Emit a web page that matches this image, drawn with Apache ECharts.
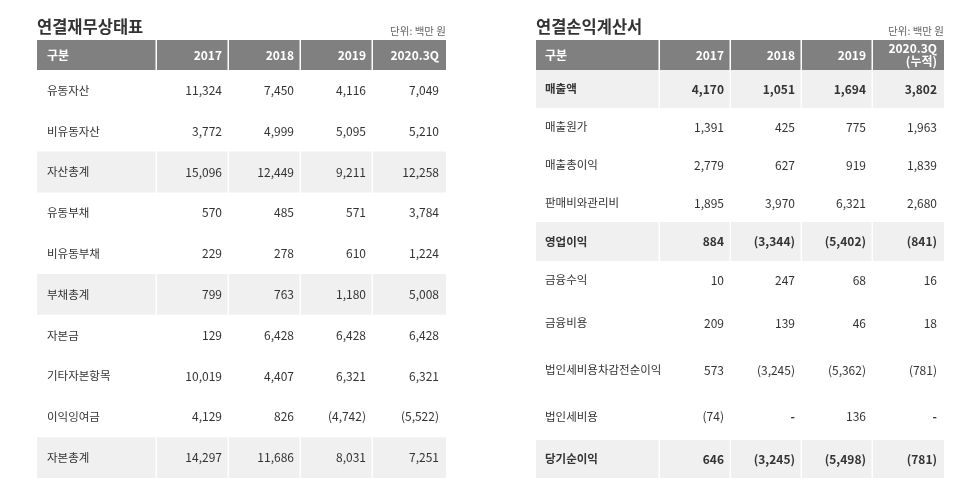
<!DOCTYPE html>
<html><head><meta charset="utf-8">
<script src="https://cdn.jsdelivr.net/npm/echarts@6/dist/echarts.min.js"></script>
<style>html,body{margin:0;padding:0;background:#fff}#c{width:972px;height:497px}</style>
</head><body><div id="c"></div>
<script>
// ---- data ----
const bsTitle = '연결재무상태표';
const isTitle = '연결손익계산서';
const unitText = '단위: 백만 원';
const bsHeaders = ['구분', '2017', '2018', '2019', '2020.3Q'];
const isHeaders = ['구분', '2017', '2018', '2019', '2020.3Q\n(누적)'];
const bsRows = ['유동자산','비유동자산','자산총계','유동부채','비유동부채','부채총계','자본금','기타자본항목','이익잉여금','자본총계'];
const bs2017 = [11324,3772,15096,570,229,799,129,10019,4129,14297];
const bs2018 = [7450,4999,12449,485,278,763,6428,4407,826,11686];
const bs2019 = [4116,5095,9211,571,610,1180,6428,6321,-4742,8031];
const bs2020 = [7049,5210,12258,3784,1224,5008,6428,6321,-5522,7251];
const bsHighlight = ['자산총계','부채총계','자본총계'];
const isRows = ['매출액','매출원가','매출총이익','판매비와관리비','영업이익','금융수익','금융비용','법인세비용차감전순이익','법인세비용','당기순이익'];
const is2017 = [4170,1391,2779,1895,884,10,209,573,-74,646];
const is2018 = [1051,425,627,3970,-3344,247,139,-3245,null,-3245];
const is2019 = [1694,775,919,6321,-5402,68,46,-5362,136,-5498];
const is2020 = [3802,1963,1839,2680,-841,16,18,-781,null,-781];
const isHighlight = ['매출액','영업이익','당기순이익'];

// ---- layout (table-local pixel units) ----
const bsLayout = {left:37, top:40, width:409, height:438,
  cols:[0,120,192,264,336,409],
  rows:[0,30,70.8,111.6,152.4,193.2,234,274.8,315.6,356.4,397.2,438], boldHighlight:false};
const isLayout = {left:536, top:40, width:408, height:438,
  cols:[0,124,195,266,337,408],
  rows:[0,30,68,106,144,182,221,259,307,353,400,438], boldHighlight:true};

const FONT = '"Noto Sans CJK KR","Noto Sans",sans-serif';
function fmt(v){
  if (v === null || v === undefined) return '-';
  const s = Math.abs(v).toLocaleString('en-US');
  return v < 0 ? '(' + s + ')' : s;
}
function buildCells(headers, rows, cols, highlight, lay){
  const cells = [];
  headers.forEach((h, c) => cells.push({v:[lay.cols[c], lay.cols[c+1], lay.rows[0], lay.rows[1]], text:h, kind:'head', col:c}));
  rows.forEach((r, i) => {
    const hl = highlight.indexOf(r) >= 0;
    const texts = [r].concat(cols.map(a => fmt(a[i])));
    texts.forEach((t, c) => cells.push({v:[lay.cols[c], lay.cols[c+1], lay.rows[i+1], lay.rows[i+2]], text:t, kind: hl ? 'hl' : 'body', col:c, bold: hl && lay.boldHighlight, dash: t === '-'}));
  });
  return cells;
}
const bsCells = buildCells(bsHeaders, bsRows, [bs2017,bs2018,bs2019,bs2020], bsHighlight, bsLayout);
const isCells = buildCells(isHeaders, isRows, [is2017,is2018,is2019,is2020], isHighlight, isLayout);

function makeRender(cells, padL, padR){
  return function(params, api){
    const cell = cells[params.dataIndex];
    const p0 = api.coord([api.value(0), api.value(2)]);
    const p1 = api.coord([api.value(1), api.value(3)]);
    const last = cell.col === 4;
    const x0 = p0[0], x1 = p1[0] - (last ? 0 : 1.5), y0 = p0[1], y1 = p1[1];
    const children = [];
    let fill = null, color = '#333', weight = 'normal', size = cell.col === 0 ? 11.5 : 12;
    if (cell.kind === 'head') { fill = '#808080'; color = '#fff'; weight = 'bold'; size = 12; }
    else if (cell.kind === 'hl') { fill = '#f0f0f0'; }
    if (cell.bold || cell.dash) weight = 'bold';
    if (fill) children.push({type:'rect', shape:{x:x0, y:y0, width:x1-x0, height:y1-y0}, style:{fill:fill}});
    const left = cell.col === 0;
    children.push({type:'text', style:{
      text: cell.text, x: left ? x0 + padL : p1[0] - padR, y: (y0 + y1) / 2,
      align: left ? 'left' : 'right', verticalAlign:'middle',
      fill: color, fontSize: size, fontWeight: weight, fontFamily: FONT, lineHeight: 13
    }});
    return {type:'group', children: children};
  };
}

function tableParts(idx, lay, cells, padL, padR){
  return {
    grid: {left: lay.left, top: lay.top, width: lay.width, height: lay.height},
    xAxis: {type:'value', gridIndex: idx, min:0, max: lay.width, show:false},
    yAxis: {type:'value', gridIndex: idx, min:0, max: lay.height, inverse:true, show:false},
    series: {type:'custom', xAxisIndex: idx, yAxisIndex: idx, clip:false, silent:true,
      encode:{x:[0,1], y:[2,3]}, data: cells.map(c => c.v), renderItem: makeRender(cells, padL, padR)}
  };
}
const t0 = tableParts(0, bsLayout, bsCells, 10, 7);
const t1 = tableParts(1, isLayout, isCells, 9, 7);

const chart = echarts.init(document.getElementById('c'));
chart.setOption({
  animation:false,
  backgroundColor:'#fff',
  title:[
    {text: bsTitle, left: 37, top: 18, padding:0, textStyle:{fontSize:16.5, fontWeight:'bold', color:'#333', fontFamily:FONT}},
    {text: isTitle, left: 536, top: 18, padding:0, textStyle:{fontSize:16.5, fontWeight:'bold', color:'#333', fontFamily:FONT}},
    {text: unitText, right: 972-446, top: 26, padding:0, textStyle:{fontSize:10.5, fontWeight:'normal', color:'#666', fontFamily:FONT}},
    {text: unitText, right: 972-944, top: 26, padding:0, textStyle:{fontSize:10.5, fontWeight:'normal', color:'#666', fontFamily:FONT}}
  ],
  grid:[t0.grid, t1.grid],
  xAxis:[t0.xAxis, t1.xAxis],
  yAxis:[t0.yAxis, t1.yAxis],
  series:[t0.series, t1.series]
});
</script></body></html>
